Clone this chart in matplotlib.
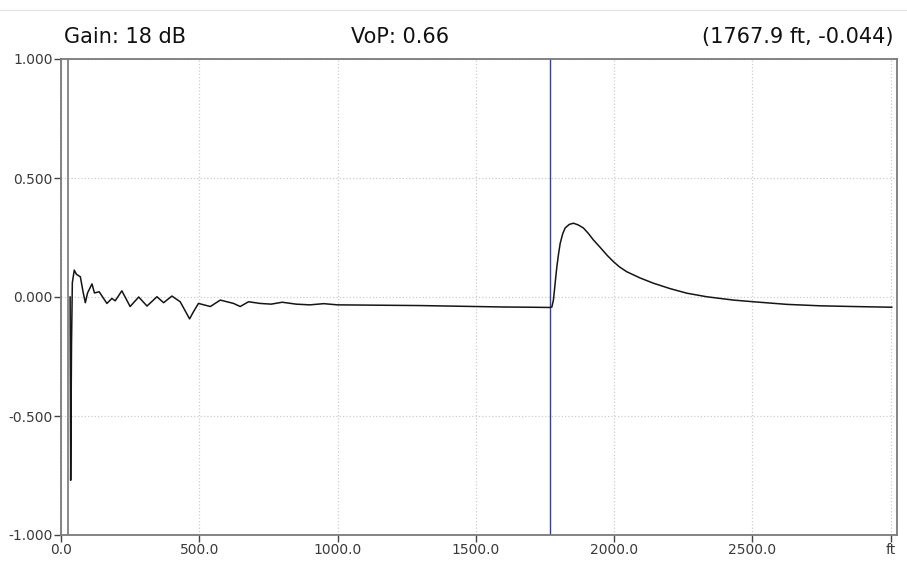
import matplotlib
matplotlib.use("Agg")
import matplotlib.pyplot as plt
from matplotlib.lines import Line2D

# trace (ft, reflection)
dist_ft = [33, 35, 38, 41, 48, 56, 70, 80, 88, 96, 112, 121, 138, 166, 184, 196,
           220, 250, 281, 311, 347, 371, 401, 431, 449, 465, 479, 497, 540, 576,
           624, 648, 678, 720, 760, 800, 850, 900, 950, 1000, 1100, 1200, 1300,
           1400, 1500, 1600, 1700, 1767.9, 1775, 1781, 1787, 1793, 1799, 1805,
           1814, 1823, 1838, 1853, 1870, 1889, 1907, 1925, 1950, 1975, 1998,
           2020, 2046, 2094, 2142, 2203, 2263, 2335, 2432, 2504, 2625, 2745,
           2865, 3004]
reflect = [0.0, -0.77, -0.20, 0.06, 0.113, 0.095, 0.085, 0.02, -0.024, 0.017,
           0.055, 0.017, 0.022, -0.027, -0.006, -0.016, 0.026, -0.040, 0.0,
           -0.038, 0.001, -0.024, 0.004, -0.020, -0.058, -0.092, -0.062, -0.027,
           -0.040, -0.013, -0.027, -0.040, -0.020, -0.027, -0.030, -0.022,
           -0.030, -0.033, -0.028, -0.033, -0.034, -0.035, -0.036, -0.038,
           -0.040, -0.042, -0.043, -0.044, -0.042, -0.010, 0.06, 0.127, 0.18,
           0.225, 0.265, 0.29, 0.305, 0.31, 0.303, 0.29, 0.267, 0.24, 0.208,
           0.175, 0.148, 0.126, 0.106, 0.080, 0.058, 0.035, 0.016, 0.001,
           -0.013, -0.020, -0.031, -0.037, -0.040, -0.043]

x_ticks = [0, 500, 1000, 1500, 2000, 2500, 3000]
x_labels = ["0.0", "500.0", "1000.0", "1500.0", "2000.0", "2500.0", "ft"]
y_ticks = [-1.0, -0.5, 0.0, 0.5, 1.0]
y_labels = ["-1.000", "-0.500", "0.000", "0.500", "1.000"]

zero_cursor = 25
cursor_ft = 1767.9
cursor_val = -0.044
gain_db = 18
vop = 0.66

plt.rcParams['font.family'] = ['DejaVu Sans']

fig = plt.figure(figsize=(9.07, 5.65), dpi=100)
ax = fig.add_axes([61 / 907, 30 / 565, 836 / 907, 476 / 565])

ax.plot(dist_ft, reflect, color='#151515', lw=1.1, zorder=3)
ax.axvline(zero_cursor, color='#8a8a8a', lw=1.4, zorder=2)
ax.axvline(cursor_ft, color='#3b4189', lw=1.0, zorder=2)

ax.set_xlim(0, 3023)
ax.set_ylim(-1, 1)
ax.set_xticks(x_ticks)
ax.set_xticklabels(x_labels)
ax.set_yticks(y_ticks)
ax.set_yticklabels(y_labels)
ax.grid(True, color='#cfcfcf', linestyle=':', lw=0.9)
ax.tick_params(axis='both', length=5, width=1, color='#444444',
               labelcolor='#3a3a3a', labelsize=10, pad=1)
for s in ax.spines.values():
    s.set_color('#7a7a7a')
    s.set_linewidth(1.3)

fig.text(64 / 907, 1 - 37 / 565, f"Gain: {gain_db} dB", fontsize=15,
         va='center', ha='left', color='#111111')
fig.text(400 / 907, 1 - 37 / 565, f"VoP: {vop:.2f}", fontsize=15,
         va='center', ha='center', color='#111111')
fig.text(894 / 907, 1 - 37 / 565, f"({cursor_ft} ft, {cursor_val:.3f})",
         fontsize=15, va='center', ha='right', color='#111111')
fig.add_artist(Line2D([0, 1], [1 - 10 / 565, 1 - 10 / 565],
                      transform=fig.transFigure, color='#e6e6e6', lw=1))

fig.savefig("out.png", dpi=100)
